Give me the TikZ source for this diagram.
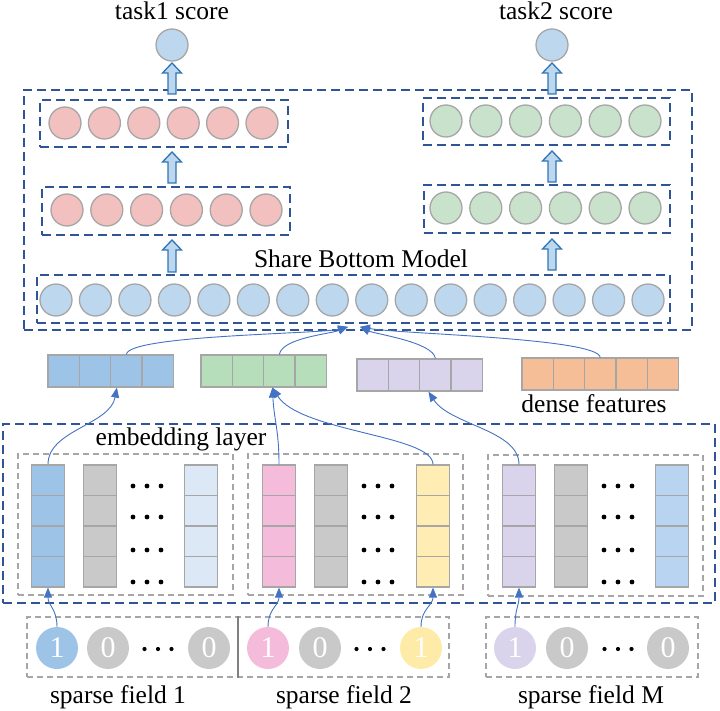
\documentclass[tikz,border=0pt]{standalone}
\usepackage{fontspec}
\setmainfont{Liberation Serif}
\usetikzlibrary{arrows.meta,fit,calc}
\definecolor{dblue}{RGB}{47,85,151}
\definecolor{arrblue}{RGB}{68,114,196}
\definecolor{cgray}{RGB}{166,166,166}
\definecolor{cblue}{RGB}{189,215,238}
\definecolor{cpink}{RGB}{243,192,192}
\definecolor{cgreen}{RGB}{200,226,203}
\definecolor{fblue}{RGB}{157,195,230}
\definecolor{fgreen}{RGB}{182,222,186}
\definecolor{fpurple}{RGB}{217,212,236}
\definecolor{forange}{RGB}{245,190,150}
\definecolor{egray}{RGB}{201,201,201}
\definecolor{elblue}{RGB}{220,232,246}
\definecolor{epink}{RGB}{244,188,218}
\definecolor{eyellow}{RGB}{255,237,180}
\definecolor{syellow}{RGB}{255,235,168}
\definecolor{eblue2}{RGB}{184,212,240}
\definecolor{hfill}{RGB}{189,215,238}
\definecolor{hline}{RGB}{46,117,182}
\definecolor{sepgray}{RGB}{128,128,128}
\newcommand\embcol[3]{%
  \node[cell, fill=#3, minimum width=33pt, minimum height=122pt, inner sep=0pt] (#1) at (#2,526) {};
  \foreach \k in {1,2,3} \draw[cell] ({#2-16.5},{465+30.5*\k}) -- ({#2+16.5},{465+30.5*\k});}
\newcommand\featbox[5]{%
  \node[cell, fill=#5, fit={(#2,#3)({#2+31.3*#4},{#3+32})}, inner sep=0pt] (#1) {};
  \foreach \k in {1,...,#4} \draw[cell] ({#2+31.3*\k},#3) -- ({#2+31.3*\k},{#3+32});}
% hollow block arrow: name, x, y of tip, y of bottom
\newcommand\hollowarrow[4]{%
  \draw[hollow] ({#2-4},#4) -- ({#2-4},{#3+10}) -- ({#2-9.5},{#3+10}) -- (#2,#3)
     -- ({#2+9.5},{#3+10}) -- ({#2+4},{#3+10}) -- ({#2+4},#4) -- cycle;
  \coordinate (#1) at (#2,#3);}
\begin{document}
\begin{tikzpicture}[x=1pt,y=-1pt,
  neuron/.style={circle, draw=cgray, line width=1.3pt, minimum size=32pt, inner sep=0pt},
  bluedash/.style={draw=dblue, line width=1.6pt, dash pattern=on 9pt off 5pt},
  graydash/.style={draw=cgray, line width=1.2pt, dash pattern=on 6pt off 4pt},
  hollow/.style={draw=hline, fill=hfill, line width=1.3pt, line join=miter},
  thinarr/.style={draw=arrblue, line width=0.9pt, -{Triangle[length=10pt,width=8pt]}},
  cell/.style={draw=cgray, line width=1.2pt},
  lab/.style={font=\fontsize{25.5}{30}\selectfont, anchor=base, inner sep=0pt},
  bit/.style={circle, minimum size=42pt, inner sep=0pt, text=white, font=\fontsize{30}{30}\selectfont},
  bdot/.style={fill=black}]
\useasboundingbox (0,0) rectangle (720,711);

% outputs
\node[lab] (t1lab) at (172,20) {task1 score};
\node[lab] (t2lab) at (556,20) {task2 score};
\node[neuron, fill=cblue] (o1) at (172,45) {};
\node[neuron, fill=cblue] (o2) at (552,45) {};

% model boxes
\node[bluedash, fit={(24,90)(692,330)}, inner sep=0pt] (outer) {};
\node[bluedash, fit={(40,100)(288,147)}, inner sep=0pt] (a2) {};
\node[bluedash, fit={(42,187)(290,235)}, inner sep=0pt] (a1) {};
\node[bluedash, fit={(423,98)(670,145)}, inner sep=0pt] (b2) {};
\node[bluedash, fit={(424,185)(670,233)}, inner sep=0pt] (b1) {};
\node[bluedash, fit={(37,275)(670,323)}, inner sep=0pt] (shared) {};

\foreach \i in {0,...,5} {
  \node[neuron, fill=cpink] (a2n\i) at ({65+39.4*\i},123) {};
  \node[neuron, fill=cpink] (a1n\i) at ({67+39.8*\i},210) {};
  \node[neuron, fill=cgreen] (b2n\i) at ({446+39.8*\i},121) {};
  \node[neuron, fill=cgreen] (b1n\i) at ({446+39.8*\i},208) {};
}
\foreach \i in {0,...,15}
  \node[neuron, fill=cblue] (sh\i) at ({56+39.47*\i},300) {};

\node[lab] (sbm) at (361,268) {Share Bottom Model};

% hollow arrows
\hollowarrow{ha1}{172}{63}{94}
\hollowarrow{ha2}{172}{152}{183}
\hollowarrow{ha3}{172}{240}{272}
\hollowarrow{hb1}{552}{63}{94}
\hollowarrow{hb2}{552}{151}{182}
\hollowarrow{hb3}{552}{239}{270}

% feature boxes
\featbox{fb1}{48}{355}{4}{fblue}
\featbox{fb2}{201}{355}{4}{fgreen}
\featbox{fb3}{357}{359}{4}{fpurple}
\featbox{fb4}{522}{358}{5}{forange}
\node[lab] (dense) at (594,412) {dense features};

% embedding layer
\node[bluedash, fit={(3,424)(715,603)}, inner sep=0pt] (emb) {};
\node[lab] (emblab) at (181,445) {embedding layer};
\node[graydash, fit={(18,454)(233,595)}, inner sep=0pt] (ef1) {};
\node[graydash, fit={(248,454)(463,595)}, inner sep=0pt] (ef2) {};
\node[graydash, fit={(488,455)(703,596)}, inner sep=0pt] (ef3) {};
\embcol{e11}{48}{fblue}
\embcol{e12}{100}{egray}
\embcol{e13}{201}{elblue}
\embcol{e21}{279}{epink}
\embcol{e22}{331}{egray}
\embcol{e23}{433}{eyellow}
\embcol{e31}{519}{fpurple}
\embcol{e32}{571}{egray}
\embcol{e33}{672}{eblue2}
\foreach \cx in {147,378,618}
  \foreach \yy in {486,517,550,582}
    \foreach \dx in {-14,0,14}
      \fill[bdot] ({\cx+\dx},\yy) circle (2.4);

% sparse inputs
\node[graydash, fit={(27,617)(449,677)}, inner sep=0pt] (sp12) {};
\node[graydash, fit={(486,617)(698,677)}, inner sep=0pt] (sp3) {};
\draw[sepgray, line width=1.3pt] (sp12.north west -| 238,0) -- (sp12.south west -| 238,0);
\node[bit, fill=fblue] (s11) at (57,648) {1};
\node[bit, fill=egray] (s12) at (108,648) {0};
\node[bit, fill=egray] (s13) at (209,648) {0};
\node[bit, fill=epink] (s21) at (268,648) {1};
\node[bit, fill=egray] (s22) at (320,648) {0};
\node[bit, fill=syellow] (s23) at (421,648) {1};
\node[bit, fill=fpurple] (s31) at (515,648) {1};
\node[bit, fill=egray] (s32) at (567,648) {0};
\node[bit, fill=egray] (s33) at (668,648) {0};
\foreach \cx in {158,370,618}
  \foreach \dx in {-13.5,0,13.5}
    \fill[bdot] ({\cx+\dx},649) circle (2.1);
\node[lab] (sf1) at (118,703) {sparse field 1};
\node[lab] (sf2) at (344,703) {sparse field 2};
\node[lab] (sf3) at (591,703) {sparse field M};

% connectors: sparse -> embedding
\draw[thinarr] (s11.north) .. controls +(0,-18) and +(0,18) .. (e11.south);
\draw[thinarr] (s21.north) .. controls +(0,-18) and +(0,18) .. (e21.south);
\draw[thinarr] (s23.north) .. controls +(0,-18) and +(0,18) .. (e23.south);
\draw[thinarr] (s31.north) .. controls +(0,-18) and +(0,18) .. (e31.south);

% embedding -> features
\coordinate (tb1) at ($(fb1.south west)!0.55!(fb1.south east)$);
\coordinate (tb2) at ($(fb2.south west)!0.57!(fb2.south east)$);
\coordinate (tb3) at ($(fb3.south west)!0.57!(fb3.south east)$);
\draw[thinarr] (e11.north) .. controls (48,430) and (110,425) .. (tb1);
\draw[thinarr] (e21.north) .. controls (279,430) and (274,420) .. (tb2);
\draw[thinarr] (e23.north) .. controls (433,435) and (300,432) .. (tb2);
\draw[thinarr] (e31.north) .. controls (519,430) and (450,425) .. (tb3);

% features -> shared bottom
\coordinate (tipL) at ($(shared.south)+(-5.5,3)$);
\coordinate (tipR) at ($(shared.south)+(6.5,3)$);
\draw[thinarr] ($(fb1.north west)!0.625!(fb1.north east)$) .. controls (128,335) and (320,334) .. (tipL);
\draw[thinarr] ($(fb2.north west)!0.625!(fb2.north east)$) .. controls (282,338) and (330,334) .. (tipL);
\draw[thinarr] ($(fb3.north west)!0.625!(fb3.north east)$) .. controls (433,342) and (375,334) .. (tipR);
\draw[thinarr] ($(fb4.north west)!0.5!(fb4.north east)$) .. controls (598,338) and (400,334) .. (tipR);
\end{tikzpicture}
\end{document}
